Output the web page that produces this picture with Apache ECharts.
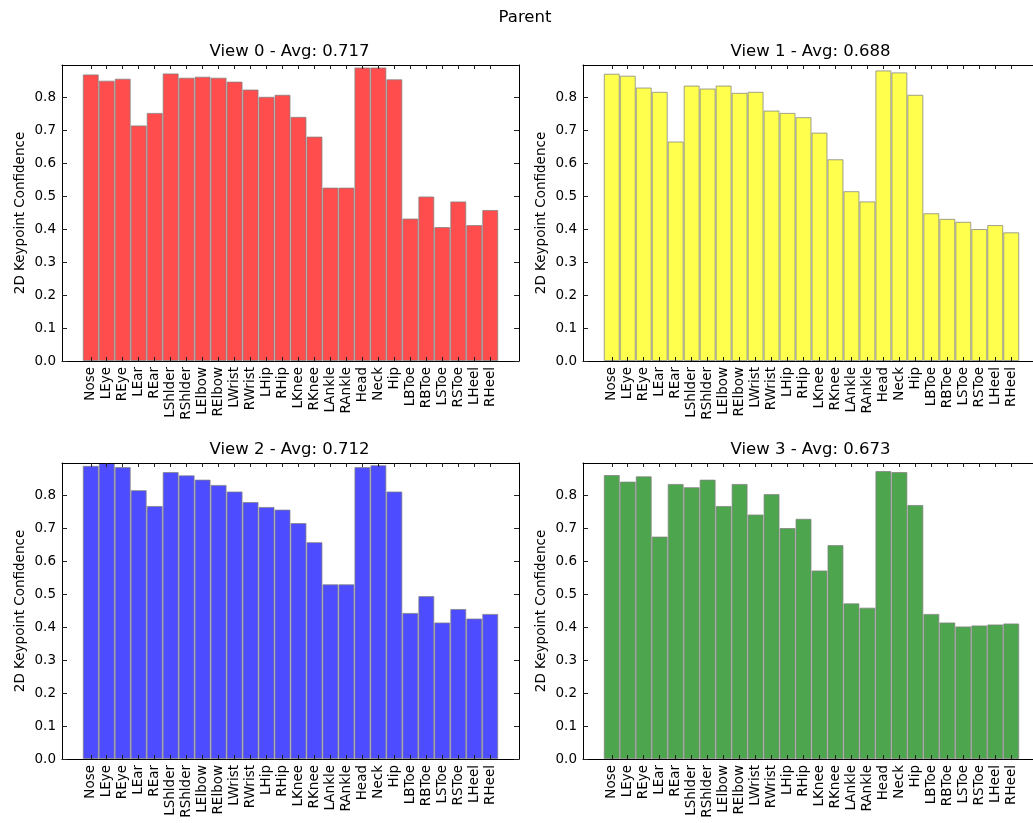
<!DOCTYPE html>
<html>
<head>
<meta charset="utf-8">
<script src="https://cdn.jsdelivr.net/npm/echarts@6/dist/echarts.min.js"></script>
<style>
html,body{margin:0;padding:0;background:#fff;overflow:hidden;}
#c{width:1050px;height:823px;}
</style>
</head>
<body>
<div id="c"></div>
<script>
const categories = ['Nose','LEye','REye','LEar','REar','LShlder','RShlder','LElbow','RElbow','LWrist','RWrist','LHip','RHip','LKnee','RKnee','LAnkle','RAnkle','Head','Neck','Hip','LBToe','RBToe','LSToe','RSToe','LHeel','RHeel'];

const view0 = [0.871,0.852,0.858,0.716,0.754,0.874,0.861,0.864,0.861,0.849,0.825,0.803,0.809,0.742,0.682,0.527,0.527,0.892,0.892,0.856,0.433,0.500,0.407,0.485,0.413,0.459];
const view1 = [0.873,0.867,0.831,0.818,0.667,0.837,0.828,0.837,0.815,0.818,0.761,0.754,0.741,0.694,0.613,0.516,0.485,0.883,0.877,0.809,0.449,0.432,0.423,0.401,0.413,0.391];
const view2 = [0.891,0.899,0.887,0.817,0.769,0.872,0.862,0.849,0.833,0.813,0.781,0.766,0.758,0.717,0.659,0.531,0.531,0.887,0.893,0.813,0.444,0.495,0.415,0.456,0.427,0.441];
const view3 = [0.863,0.843,0.859,0.676,0.836,0.826,0.849,0.769,0.836,0.743,0.805,0.702,0.730,0.573,0.650,0.473,0.460,0.875,0.872,0.772,0.441,0.415,0.403,0.406,0.409,0.412];

const viewTitles = ['View 0 - Avg: 0.717','View 1 - Avg: 0.688','View 2 - Avg: 0.712','View 3 - Avg: 0.673'];
const figureTitle = 'Parent';
const yAxisName = '2D Keypoint Confidence';
const yTicks = [0.0,0.1,0.2,0.3,0.4,0.5,0.6,0.7,0.8];

const views = [view0, view1, view2, view3];
const fills = ['#ff4d4d','#ffff4d','#4d4dff','#4da64d'];
const edge = 'rgba(128,128,128,0.75)';
const FONT = 'DejaVu Sans';

const gridW = 457, gridH = 296;
const lefts = [62, 583, 62, 583];
const tops = [65, 65, 463, 463];
const xMin = -1.8, xMax = 26.8;
const barW = gridW / (xMax - xMin);
const idx = categories.map((_, i) => i);

const grids = [], xAxes = [], yAxes = [], series = [], titles = [];
titles.push({text: figureTitle, left: 525, top: 9, textAlign: 'center', padding: 0,
  textStyle: {fontFamily: FONT, fontSize: 16.5, fontWeight: 'normal', color: '#000'}});

for (let g = 0; g < 4; g++) {
  grids.push({left: lefts[g], top: tops[g], width: gridW, height: gridH, containLabel: false});
  titles.push({text: viewTitles[g], left: lefts[g] + gridW / 2 - 1, top: tops[g] - 22, textAlign: 'center', padding: 0,
    textStyle: {fontFamily: FONT, fontSize: 16.5, fontWeight: 'normal', color: '#000'}});
  const lineStyle = {color: '#000', width: 1};
  const tickStyle = {color: '#222', width: 1};
  xAxes.push({
    type: 'value', gridIndex: g, position: 'bottom', min: xMin, max: xMax, z: 5,
    axisLine: {show: true, onZero: false, lineStyle},
    splitLine: {show: false},
    axisTick: {show: true, inside: true, length: 4, customValues: idx, lineStyle: tickStyle},
    axisLabel: {show: true, customValues: idx, rotate: 90, margin: 6,
      formatter: v => categories[Math.round(v)], fontFamily: FONT, fontSize: 13.5, color: '#000'}
  });
  xAxes.push({
    type: 'value', gridIndex: g, position: 'top', min: xMin, max: xMax, z: 5,
    axisLine: {show: true, onZero: false, lineStyle},
    splitLine: {show: false},
    axisTick: {show: true, inside: true, length: 4, customValues: idx, lineStyle: tickStyle},
    axisLabel: {show: false}
  });
  yAxes.push({
    type: 'value', gridIndex: g, position: 'left', min: 0, max: 0.8995, z: 5,
    name: yAxisName, nameLocation: 'middle', nameGap: 35, nameRotate: 90,
    nameTextStyle: {fontFamily: FONT, fontSize: 13.5, color: '#000'},
    axisLine: {show: true, onZero: false, lineStyle},
    splitLine: {show: false},
    axisTick: {show: true, inside: true, length: 5, customValues: yTicks, lineStyle: tickStyle},
    axisLabel: {show: true, customValues: yTicks, margin: 6, formatter: v => v.toFixed(1),
      fontFamily: FONT, fontSize: 13.5, color: '#000'}
  });
  yAxes.push({
    type: 'value', gridIndex: g, position: 'right', min: 0, max: 0.8995, z: 5,
    axisLine: {show: true, onZero: false, lineStyle},
    splitLine: {show: false},
    axisTick: {show: true, inside: true, length: 5, customValues: yTicks, lineStyle: tickStyle},
    axisLabel: {show: false}
  });
  series.push({
    type: 'bar', xAxisIndex: g * 2, yAxisIndex: g * 2,
    data: views[g].map((v, i) => [i, v]),
    barWidth: barW,
    itemStyle: {color: fills[g], borderColor: edge, borderWidth: 1},
    silent: true
  });
}

const chart = echarts.init(document.getElementById('c'), null, {renderer: 'canvas'});
chart.setOption({
  animation: false,
  backgroundColor: '#fff',
  title: titles,
  grid: grids,
  xAxis: xAxes,
  yAxis: yAxes,
  series: series
});
</script>
</body>
</html>
